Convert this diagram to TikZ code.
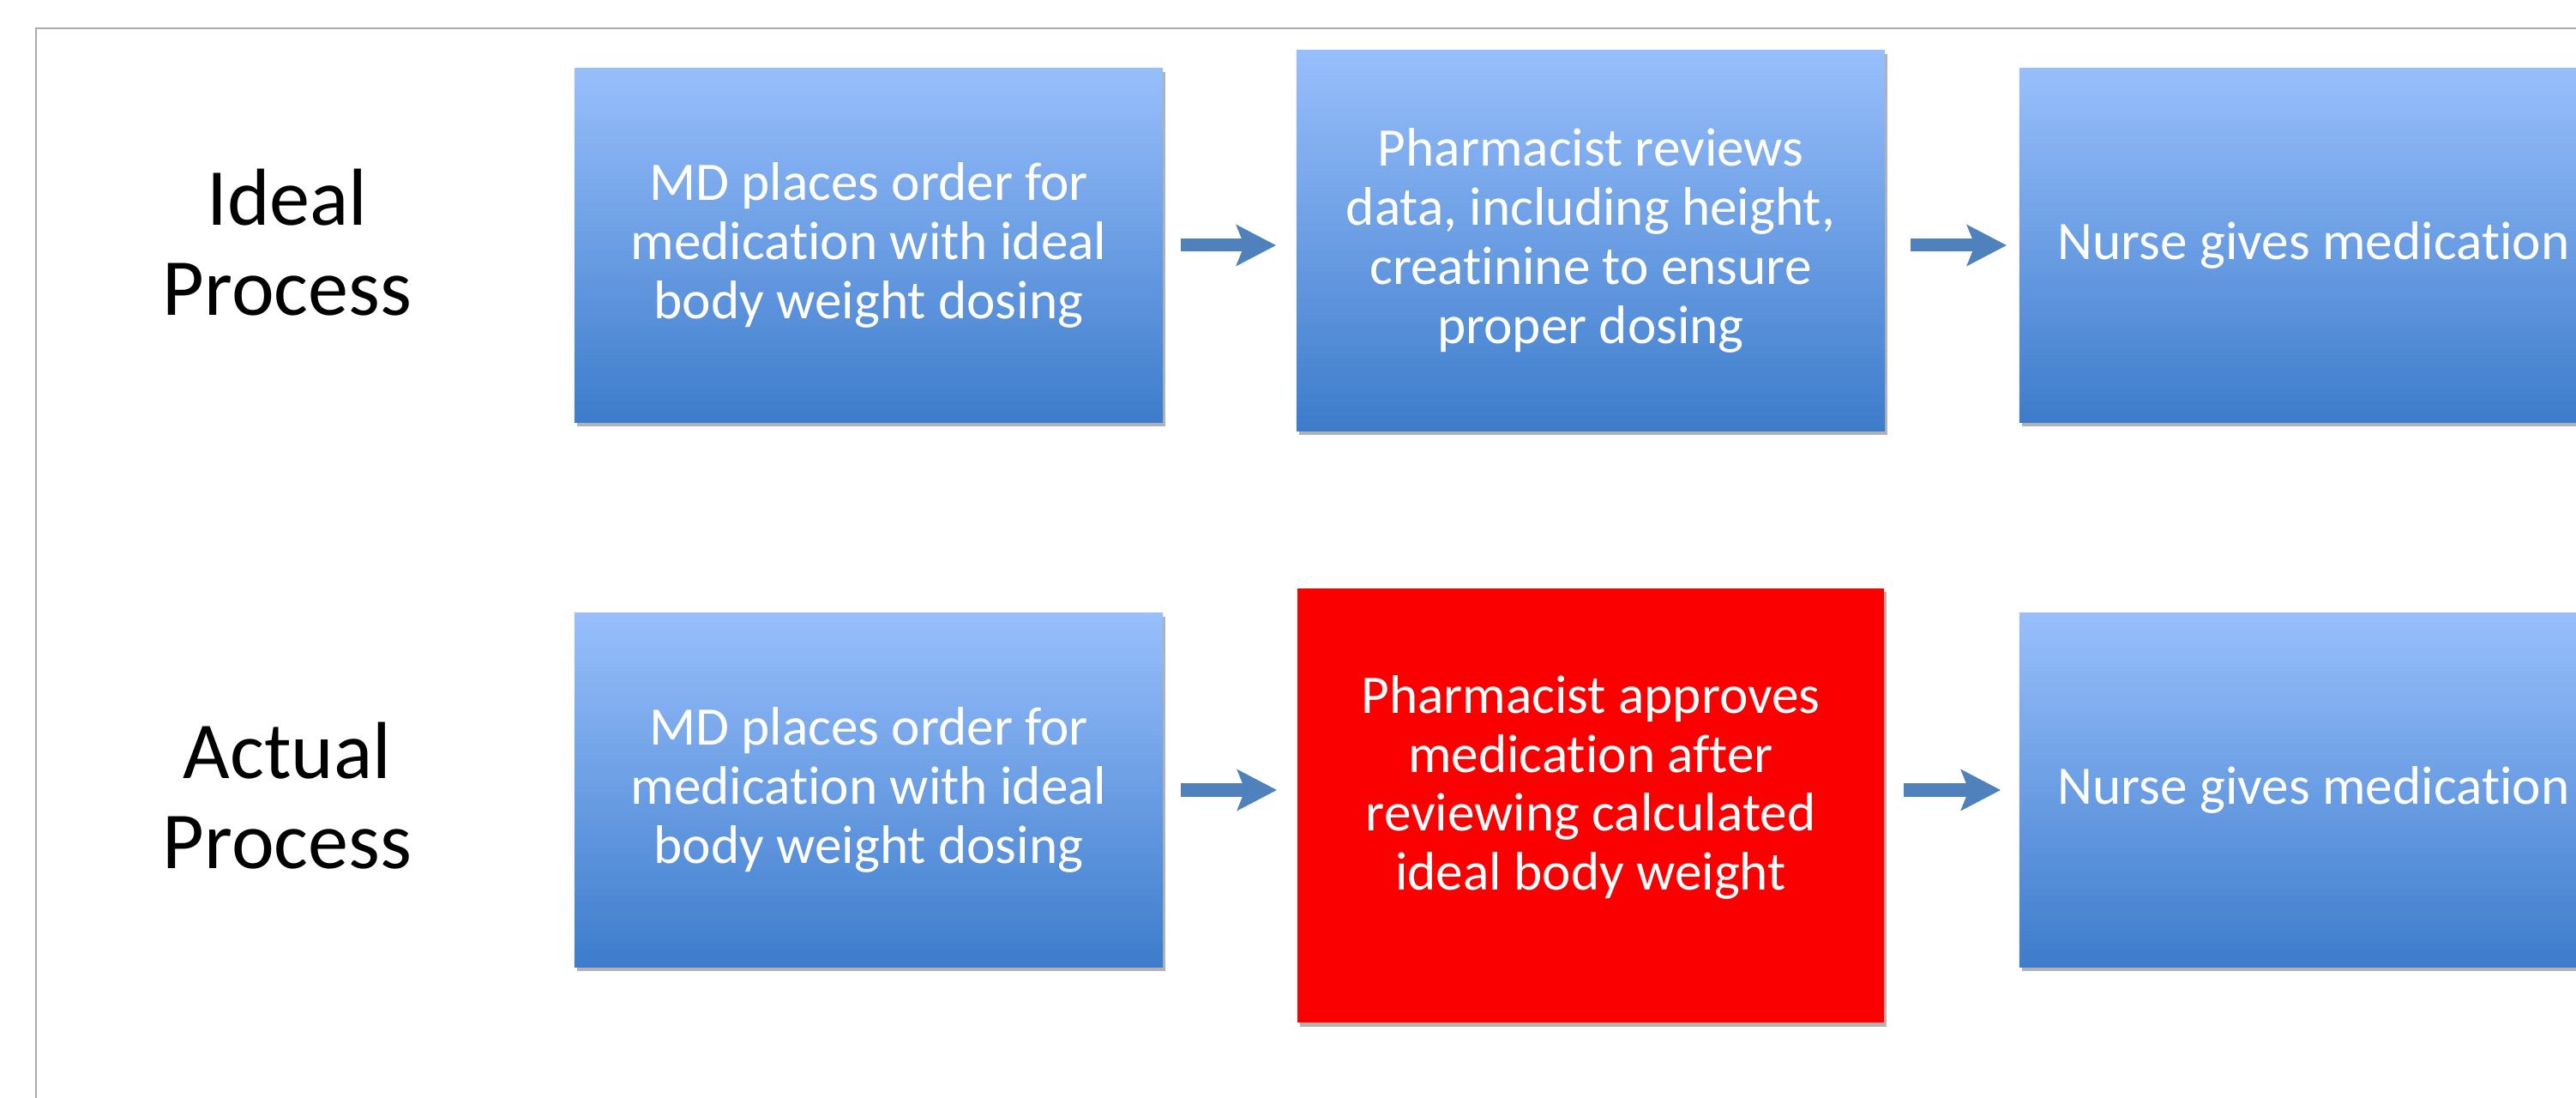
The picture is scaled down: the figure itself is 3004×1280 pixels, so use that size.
\documentclass[tikz,border=0pt]{standalone}
\usepackage{fontspec}
\setmainfont{Carlito}[Ligatures=NoCommon]
\usetikzlibrary{arrows.meta,shadows}
\definecolor{blueTop}{HTML}{98BFFC}
\definecolor{blueBot}{HTML}{3D7CCB}
\definecolor{arrowBlue}{HTML}{4F81BD}
\definecolor{redBox}{HTML}{FA0000}
\definecolor{frameGray}{HTML}{ABABAB}
\begin{document}
\begin{tikzpicture}[x=0.01cm,y=-0.01cm,
  boxshadow/.style={drop shadow={shadow xshift=0.8pt, shadow yshift=-1.3pt, opacity=0.3, fill=black}},
  bluebox/.style={rectangle, minimum width=6.86cm, minimum height=4.12cm, top color=blueTop, bottom color=blueBot, draw=none, text=white, align=center, inner sep=0pt, font=\fontsize{18}{19.6}\selectfont, boxshadow},
  redbox/.style={rectangle, minimum width=6.84cm, minimum height=5.06cm, fill=redBox, draw=none, inner sep=0pt, boxshadow},
  boxtext/.style={text=white, align=center, inner sep=0pt, font=\fontsize{18}{19.6}\selectfont},
  rowlabel/.style={text=black, align=center, inner sep=0pt, font=\fontsize{26.8}{29.9}\selectfont},
  flowarrow/.style={draw=arrowBlue, line width=0.15cm, -{Stealth[length=0.46cm, width=0.47cm, inset=0.09cm]}}
]
\path[use as bounding box, clip] (0,0) rectangle (3004,1280);
\fill[white] (0,0) rectangle (3004,1280);
\draw[frameGray, line width=0.6pt] (42,33) rectangle (3200,1400);

% row labels
\node[rowlabel] (lideal) at (335,283) {Ideal\\Process};
\node[rowlabel] (lactual) at (335,928) {Actual\\Process};

% ideal row
\node[bluebox] (md1) at (1013,286) {MD places order for\\medication with ideal\\body weight dosing};
\node[bluebox, minimum height=4.43cm] (ph1) at (1855,280.5) {Pharmacist reviews\\data, including height,\\creatinine to ensure\\proper dosing};
\node[bluebox] (nu1) at (2698,286) {Nurse gives medication};

% actual row
\node[bluebox] (md2) at (1013,921) {MD places order for\\medication with ideal\\body weight dosing};
\node[redbox] (ph2) at (1855,939) {};
\node[boxtext] (ph2text) at (1855,918) {Pharmacist approves\\medication after\\reviewing calculated\\ideal body weight};
\node[bluebox] (nu2) at (2698,921) {Nurse gives medication};

% arrows
\draw[flowarrow, shorten <=0.2cm, shorten >=0.23cm] (md1.east) -- (md1.east -| ph1.west);
\draw[flowarrow, shorten <=0.29cm, shorten >=0.14cm] (ph1.east |- md1.east) -- (nu1.west);
\draw[flowarrow, shorten <=0.2cm, shorten >=0.23cm] (md2.east) -- (md2.east -| ph2.west);
\draw[flowarrow, shorten <=0.22cm, shorten >=0.21cm] (ph2.east |- md2.east) -- (nu2.west);
\end{tikzpicture}
\end{document}
